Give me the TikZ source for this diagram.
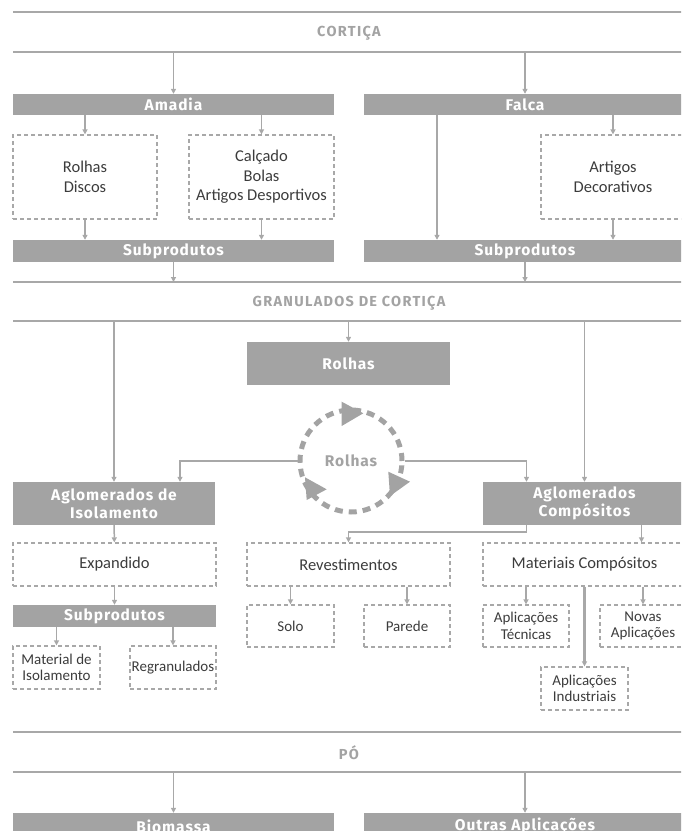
\documentclass[tikz,border=0pt]{standalone}
\usepackage{fontspec}
\setmainfont{Carlito}
\newfontfamily\barfont[LetterSpace=6]{Fira Sans}
\newfontfamily\headfont[LetterSpace=9]{Fira Sans}
\usetikzlibrary{arrows.meta}

\definecolor{corkbar}{HTML}{A3A3A3}
\definecolor{corkline}{HTML}{A8A8A8}
\definecolor{corktext}{HTML}{3C3C3C}

\tikzset{
  bar/.style={fill=corkbar, text=white, inner sep=0pt, align=center,
    font=\barfont\bfseries\fontsize{15.5}{18}\selectfont},
  dbox/.style={draw=corkline, line width=1.2pt, dash pattern=on 4pt off 3pt,
    text=corktext, inner sep=0pt, align=center,
    font=\fontsize{16.5}{19.5}\selectfont},
  smallbox/.style={font=\fontsize{15}{16.5}\selectfont},
  wh/.style 2 args={minimum width=#1pt, minimum height=#2pt},
  head/.style={text=corkbar, font=\headfont\bfseries\fontsize{14.5}{16}\selectfont},
  rule/.style={draw=corkline, line width=2pt},
  link/.style={draw=corkline, line width=1.5pt, -{Triangle[width=5pt,length=5pt]}}
}

\begin{document}
\begin{tikzpicture}[x=1pt,y=-1pt]
  \useasboundingbox (0,0) rectangle (681,831);
  \clip (0,0) rectangle (681,831);

  % rules and headings
  \draw[rule] (13,12) -- (695,12);
  \draw[rule] (13,52) -- (695,52);
  \draw[rule] (13,282) -- (695,282);
  \draw[rule] (13,321) -- (695,321);
  \draw[rule] (13,732) -- (695,732);
  \draw[rule] (13,772) -- (695,772);
  \coordinate (r2) at (0,52);
  \coordinate (r3) at (0,282);
  \coordinate (r4) at (0,321);
  \coordinate (r6) at (0,772);

  \node[head] (cortica) at (349,33) {CORTIÇA};
  \node[head] (granulados) at (349,303) {GRANULADOS DE CORTIÇA};
  \node[head] (po) at (349,753) {PÓ};

  % bars
  \begin{scope}[every node/.style={bar}]
    \node[wh={321}{21}] (amadia) at (173.5,104.5) {Amadia};
    \node[wh={322}{21}] (falca)  at (525,104.5) {Falca};
    \node[wh={321}{22}] (sub1)   at (173.5,251) {Subprodutos};
    \node[wh={322}{22}] (sub2)   at (525,251) {Subprodutos};
    \node[wh={203}{43}] (rolhasbar) at (348.5,363.5) {Rolhas};
    \node[wh={202}{43}] (isol)   at (114,503.5) {Aglomerados de\\Isolamento};
    \node[wh={203}{43}] (comp)   at (584.5,503.5) {Aglomerados\\Compósitos};
    \node[wh={203}{22}] (sub3)   at (114.5,616) {Subprodutos};
    \node[wh={321}{26}] (biomassa) at (173.5,826) {Biomassa};
    \node[wh={322}{26}] (outras) at (525,826) {Outras Aplicações};
  \end{scope}

  % dashed boxes
  \begin{scope}[every node/.style={dbox}]
    \node[wh={144}{84}] (discos)  at (85,177) {Rolhas\\Discos};
    \node[wh={145}{84}] (calcado) at (261.5,177) {Calçado\\Bolas\\Artigos Desportivos};
    \node[wh={144}{84}] (decor)   at (613,177) {Artigos\\Decorativos};
    \node[wh={203}{43}] (expand)  at (114.5,564.5) {Expandido};
    \node[wh={203}{43}] (revest)  at (348.5,564.5) {Revestimentos};
    \node[wh={203}{43}] (materiais) at (584.5,564.5) {Materiais Compósitos};
    \node[wh={87}{43},smallbox] (matiso) at (56.5,667.5) {Material de\\Isolamento};
    \node[wh={86}{43},smallbox] (regran) at (173,667.5) {Regranulados};
    \node[wh={87}{42},smallbox] (solo)   at (290.5,626) {Solo};
    \node[wh={86}{42},smallbox] (parede) at (407,626) {Parede};
    \node[wh={86}{42},smallbox] (tecnicas) at (526,626) {Aplicações\\Técnicas};
    \node[wh={86}{42},smallbox] (novas)  at (643,626) {Novas\\Aplicações};
    \node[wh={87}{43},smallbox] (industriais) at (584.5,688.5) {Aplicações\\Industriais};
  \end{scope}

  % recycling loop
  \node[circle, draw=corkbar, line width=5pt, dash pattern=on 8pt off 6pt,
    minimum size=102pt, inner sep=0pt, text=corkbar,
    font=\barfont\bfseries\fontsize{15.5}{17}\selectfont] (cycle) at (351,461) {Rolhas};
  \fill[corkbar] (341.7,401.7) -- (363.3,413.3) -- (341.7,426) -- cycle;
  \fill[corkbar] (388.3,471.7) -- (410,481.7) -- (390,496) -- cycle;
  \fill[corkbar] (305,477.3) -- (326.7,489.3) -- (306.7,500) -- cycle;

  % connectors
  \draw[link] (amadia.north |- r2) -- (amadia);
  \draw[link] (falca.north |- r2) -- (falca);
  \draw[link] (amadia.south -| discos.north) -- (discos);
  \draw[link] (amadia.south -| calcado.north) -- (calcado);
  \draw[link] (falca.south -| decor.north) -- (decor);
  \draw[link] ([xshift=-88pt]falca.south) -- ([xshift=-88pt]sub2.north);
  \draw[link] (discos) -- (discos.south |- sub1.north);
  \draw[link] (calcado) -- (calcado.south |- sub1.north);
  \draw[link] (decor) -- (decor.south |- sub2.north);
  \draw[link] (sub1) -- (sub1.south |- r3);
  \draw[link] (sub2) -- (sub2.south |- r3);

  \draw[link] (isol.north |- r4) -- (isol);
  \draw[link] (rolhasbar.north |- r4) -- (rolhasbar);
  \draw[link] (comp.north |- r4) -- (comp);
  \draw[link] (cycle.west) -| ([xshift=66pt]isol.north);
  \draw[link] (cycle.east) -| ([xshift=-58pt]comp.north);

  \draw[link] (isol) -- (expand);
  \draw[link] ([xshift=-58pt]comp.south) -- ++(0,7) -| (revest.north);
  \draw[link] ([xshift=57pt]comp.south) -- ([xshift=57pt]materiais.north);
  \draw[link] (expand) -- (sub3);
  \draw[link] (sub3.south -| matiso.north) -- (matiso);
  \draw[link] (sub3.south -| regran.north) -- (regran);
  \draw[link] (revest.south -| solo.north) -- (solo);
  \draw[link] (revest.south -| parede.north) -- (parede);
  \draw[link] (materiais.south -| tecnicas.north) -- (tecnicas);
  \draw[link] (materiais.south -| novas.north) -- (novas);
  \draw[link, line width=2.5pt] (materiais) -- (industriais);

  \draw[link] (biomassa.north |- r6) -- (biomassa);
  \draw[link] (outras.north |- r6) -- (outras);
\end{tikzpicture}
\end{document}
